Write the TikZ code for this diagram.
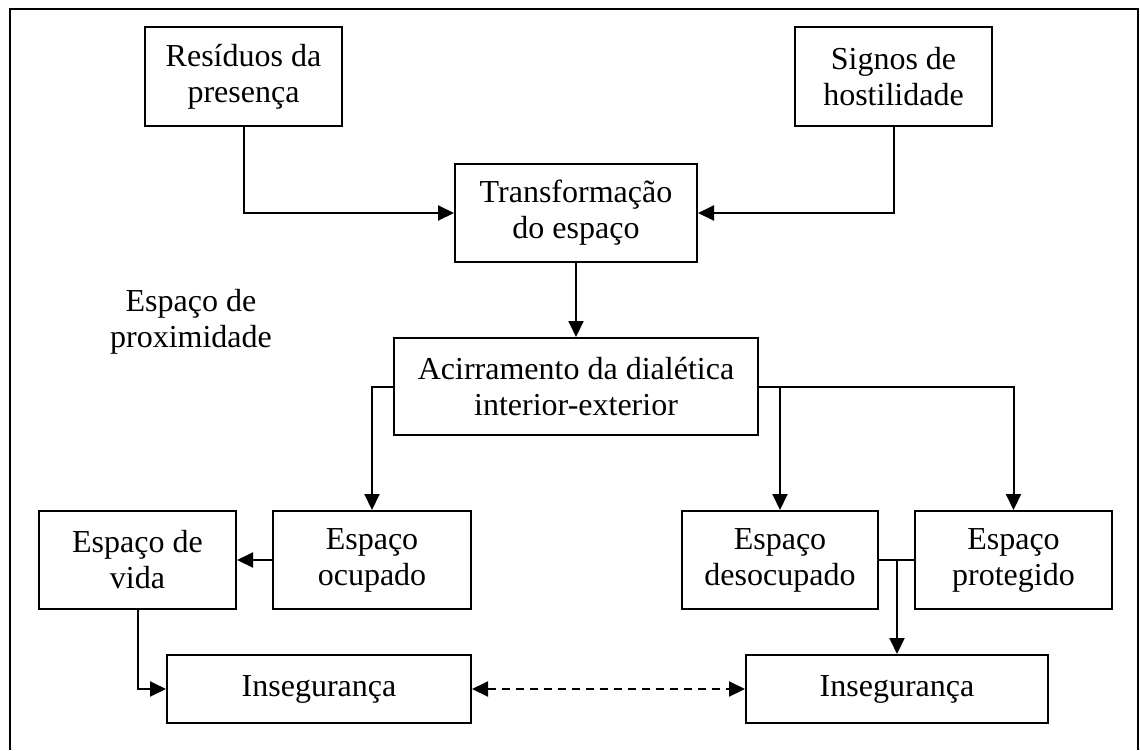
\documentclass[tikz,border=0pt]{standalone}
\usepackage{fontspec}
\setmainfont{Liberation Serif}
\usetikzlibrary{arrows.meta}

\begin{document}
\begin{tikzpicture}[x=0.5pt,y=-0.5pt,
   box/.style={draw,line width=1pt,inner sep=0pt,align=center,
    font=\fontsize{16}{18}\selectfont},
   tip/.tip={Triangle[length=8pt,width=7.5pt]},
   arr/.style={line width=1pt,-tip}]
   \useasboundingbox (0,0) rectangle (1140,750);
   \draw[line width=1.4pt] (10,750) -- (10,9) -- (1138,9) -- (1138,750);
   \node[box,minimum width=98.5pt,minimum height=49.5pt] (res) at (243.5,76.5)
    {Resíduos da\\presença};
   \node[box,minimum width=98.5pt,minimum height=49.5pt] (sig) at (893.5,76.5)
    {Signos de\\hostilidade};
   \node[box,minimum width=121pt,minimum height=49pt] (trans) at (576,213)
    {Transformação\\do espaço};
   \node[box,minimum width=182pt,minimum height=48.5pt] (acir) at (576,386.5)
    {Acirramento da dialética\\interior-exterior};
   \node[box,minimum width=98.5pt,minimum height=49pt] (vida) at (137.5,560)
    {Espaço de\\vida};
   \node[box,minimum width=99pt,minimum height=49pt] (ocup) at (372,560)
    {Espaço\\ocupado};
   \node[box,minimum width=98pt,minimum height=49pt] (desoc) at (780,560)
    {Espaço\\desocupado};
   \node[box,minimum width=98.5pt,minimum height=49pt] (prot) at (1013.5,560)
    {Espaço\\protegido};
   \node[box,minimum width=152pt,minimum height=34pt] (insegA) at (319,689)
    {Insegurança};
   \node[box,minimum width=151pt,minimum height=34pt] (insegB) at (897,689)
    {Insegurança};
   \node[align=center,font=\fontsize{16}{18}\selectfont] (prox) at (191,322)
    {Espaço de\\proximidade};
   % connectors
   \draw[arr] (res.south) |- (trans.west);
   \draw[arr] (sig.south) |- (trans.east);
   \draw[arr] (trans.south) -- (acir.north);
   \draw[arr] (acir.west) -| (ocup.north);
   \draw[arr] (acir.east) -| (prot.north);
   \draw[arr] (acir.east -| desoc.north) -- (desoc.north);
   \draw[arr] (ocup.west) -- (vida.east);
   \draw[arr] (vida.south) |- (insegA.west);
   \draw[line width=1pt] (desoc.east) -- (prot.west);
   \draw[arr] (desoc.east -| insegB.north) -- (insegB.north);
   \draw[line width=1pt,tip-tip,dash pattern=on 4pt off 3pt]
    (insegA.east) -- (insegB.west);
\end{tikzpicture}
\end{document}
